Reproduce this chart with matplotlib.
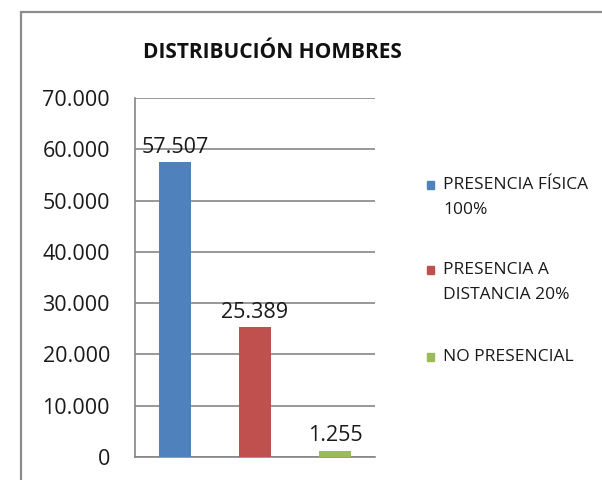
import matplotlib
matplotlib.use("Agg")
import matplotlib.pyplot as plt
from matplotlib.patches import Rectangle

categories = ["PRESENCIA FÍSICA\n100%", "PRESENCIA A\nDISTANCIA 20%", "NO PRESENCIAL"]
values = [57507, 25389, 1255]
colors = ["#4F81BD", "#C0504D", "#9BBB59"]
yticks = [0, 10000, 20000, 30000, 40000, 50000, 60000, 70000]
title = "DISTRIBUCIÓN HOMBRES"

def fmt(v):
    return f"{v:,}".replace(",", ".")

plt.rcParams['font.family'] = ['Open Sans', 'DejaVu Sans']
W, H = 602, 480
fig = plt.figure(figsize=(W / 100, H / 100), dpi=100)

# outer chart frame
fig.patches.append(Rectangle((21 / W, -0.1), 1.2, (H - 12) / H + 0.1, transform=fig.transFigure,
                             fill=False, edgecolor="#8C8C8C", linewidth=1.6))

ax = fig.add_axes([135 / W, (H - 457) / H, 240 / W, (457 - 98) / H])
x = list(range(len(values)))
ax.bar(x, values, width=0.4, color=colors, zorder=3)
ax.set_xlim(-0.5, len(values) - 0.5)
ax.set_ylim(0, 70000)
ax.set_yticks(yticks)
ax.set_yticklabels([fmt(t) for t in yticks], fontsize=15.5, color="#1a1a1a")
ax.set_xticks([])
ax.tick_params(axis="y", length=0, pad=18)
ax.grid(axis="y", color="#868686", linewidth=1.2, zorder=0)
for side in ["top", "right"]:
    ax.spines[side].set_visible(False)
ax.spines["left"].set_color("#868686")
ax.spines["bottom"].set_color("#868686")
ax.spines["left"].set_linewidth(1.2)
ax.spines["bottom"].set_linewidth(1.2)

for xi, v in zip(x, values):
    ax.annotate(fmt(v), (xi, v), xytext=(0, 3), textcoords="offset points",
                ha="center", va="bottom", fontsize=15.5, color="#1a1a1a", zorder=4)

fig.text(272 / W, 1 - 52 / H, title, ha="center", va="center", fontsize=15,
         fontweight="bold", color="#111111")

# legend
first_line_y = [185, 270, 357]
for lab, c, yy in zip(categories, colors, first_line_y):
    fig.patches.append(Rectangle((427 / W, 1 - (yy + 4) / H), 7 / W, 8 / H,
                                 transform=fig.transFigure, color=c))
    for k, line in enumerate(lab.split("\n")):
        fig.text(443 / W, 1 - (yy + 25 * k) / H, line, ha="left", va="center",
                 fontsize=12.5, color="#1a1a1a")

fig.savefig("out.png", dpi=100)
